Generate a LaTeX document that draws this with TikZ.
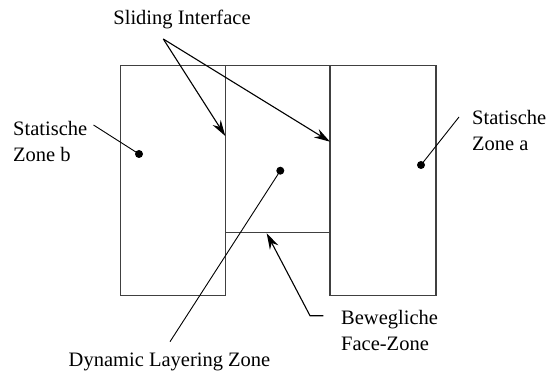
\documentclass[tikz,border=0pt]{standalone}
\usepackage{fontspec}
\setmainfont{Liberation Serif}
\usetikzlibrary{arrows.meta}

\tikzset{
  zonebox/.style={draw=black!75, line width=1.4pt},
  lbltext/.style={inner sep=0pt, align=left},
  pointer/.style={-{Stealth[length=16pt,width=9.5pt]}, line width=1.1pt},
  leader/.style={line width=0.9pt},
  dot/.style={circle, fill, inner sep=0pt, minimum size=8pt},
}

\begin{document}
\begin{tikzpicture}[x=1pt, y=-1pt, font=\fontsize{20.5}{26}\selectfont]
				\useasboundingbox (0,0) rectangle (546,374);
				
				% Zones
				\draw[zonebox] (120.7,65.7) rectangle (225.3,295.5);
				\draw[zonebox] (330,65.7) rectangle (436,295.5);
				\draw[zonebox] (225.3,65.7) rectangle (330,232.3);
				
				% Labels
				\node[lbltext] (slide) at (182,19) {Sliding Interface};
				\node[lbltext, anchor=west] (statb) at (13,141) {Statische\\Zone b};
				\node[lbltext, anchor=west] (stata) at (472,130) {Statische\\Zone a};
				\node[lbltext, anchor=west] (bewg) at (341,330) {Bewegliche\\Face-Zone};
				\node[lbltext] (dyn) at (169.5,361.7) {Dynamic Layering Zone};
				
				% Zone points
				\node[dot] (dotb) at (139,154) {};
				\node[dot] (dota) at (421,165) {};
				\node[dot] (dotm) at (280.3,170.7) {};
				
				% Arrow ends and leader ends
				\coordinate (slide-src) at (163.3,39);
				\coordinate (iface-l) at (225.3,136);
				\coordinate (iface-r) at (330,141.7);
				\coordinate (face-pt) at (266.7,233.3);
				\coordinate (bewg-knee) at (310,315.7);
				\coordinate (bewg-end) at (323.3,315.7);
				\coordinate (statb-end) at (93.5,125);
				\coordinate (stata-end) at (459,117);
				\coordinate (dyn-end) at (170,341.7);
				
				% Sliding interface arrows
				\draw[pointer] (slide-src) -- (iface-l);
				\draw[pointer] (slide-src) -- (iface-r);
				
				% Moving face zone arrow
				\draw[pointer] (bewg-end) -- (bewg-knee) -- (face-pt);
				
				% Leader lines to the zones
				\draw[leader] (statb-end) -- (dotb.center);
				\draw[leader] (stata-end) -- (dota.center);
				\draw[leader] (dyn-end) -- (dotm.center);
\end{tikzpicture}
\end{document}
